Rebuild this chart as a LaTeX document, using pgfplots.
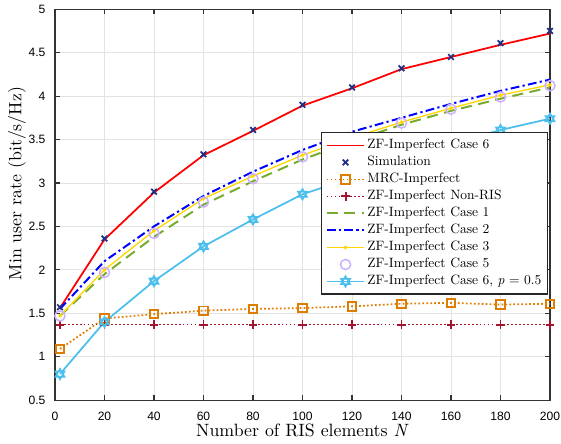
\documentclass[border=0pt]{standalone}
\usepackage{fontspec}
\setmainfont{lmroman10}[Extension=.otf, UprightFont=*-regular, ItalicFont=*-italic,
  BoldFont=*-bold, BoldItalicFont=*-bolditalic]
\usepackage{pgfplots}
\pgfplotsset{compat=1.18}
\newfontfamily\ticksans{Liberation Sans}

\definecolor{cRed}{rgb}{1,0,0}
\definecolor{cSim}{rgb}{0.12,0.18,0.52}
\definecolor{cMRC}{rgb}{0.87,0.49,0.0}
\definecolor{cNon}{rgb}{0.64,0.08,0.18}
\definecolor{cC1}{rgb}{0.47,0.67,0.19}
\definecolor{cC2}{rgb}{0,0,1}
\definecolor{cC3}{rgb}{1,0.84,0}
\definecolor{cC5}{rgb}{0.8,0.7,1}
\definecolor{cC6p}{rgb}{0.3,0.75,0.93}

% six-pointed star, as MATLAB's hexagram
\pgfdeclareplotmark{hexagram}{%
  \pgfpathmoveto{\pgfqpointpolar{90}{\pgfplotmarksize}}%
  \pgfpathlineto{\pgfqpointpolar{210}{\pgfplotmarksize}}%
  \pgfpathlineto{\pgfqpointpolar{330}{\pgfplotmarksize}}%
  \pgfpathclose
  \pgfpathmoveto{\pgfqpointpolar{270}{\pgfplotmarksize}}%
  \pgfpathlineto{\pgfqpointpolar{30}{\pgfplotmarksize}}%
  \pgfpathlineto{\pgfqpointpolar{150}{\pgfplotmarksize}}%
  \pgfpathclose
  \pgfusepathqstroke}

\begin{document}
\begin{tikzpicture}
\begin{axis}[
  name=ax,
  scale only axis,
  width=225pt, height=177.7pt,
  xmin=0, xmax=200, ymin=0.5, ymax=5,
  xtick={0,20,...,200},
  ytick={0.5,1,...,5},
  /pgf/number format/assume math mode=true,
  yticklabel style={/pgf/number format/fixed, xshift=-0.8pt},
  xticklabel style={yshift=-2pt},
  ticklabel style={font=\ticksans\fontsize{5.5}{6}\selectfont},
  xlabel={Number of RIS elements \textit{N}},
  ylabel={Min user rate (bit/s/Hz)},
  label style={font=\fontsize{8.1}{9.5}\selectfont},
  xlabel style={at={(axis description cs:0.5,-0.094)}, anchor=base},
  ylabel style={at={(axis description cs:-0.077,0.554)}, anchor=center},
  grid=major,
  grid style={gray!22, line width=0.4pt},
  tick align=inside,
  major tick length=2.3pt,
  axis line style={black!80, line width=0.5pt},
  tick style={black!80, line width=0.5pt},
  legend style={font=\fontsize{6.15}{7}\selectfont, at={(0.996,0.685)}, anchor=north east,
                draw=black!85, line width=0.5pt, row sep=0pt, inner sep=1.8pt,
                nodes={inner sep=0.95pt}},
  legend cell align=left,
]
\addplot[cRed, line width=0.8pt] coordinates {
  (2,1.56) (20,2.35) (40,2.89) (60,3.32) (80,3.60) (100,3.89) (120,4.09)
  (140,4.31) (160,4.45) (180,4.59) (200,4.72)
};
\addplot[only marks, cSim, mark=x, mark size=1.8pt, line width=0.8pt] coordinates {
  (2,1.57) (20,2.36) (40,2.90) (60,3.33) (80,3.61) (100,3.90) (120,4.10)
  (140,4.32) (160,4.45) (180,4.61) (200,4.75)
};
\addplot[cMRC, densely dotted, line width=0.8pt, mark=square, mark size=1.9pt,
         mark options={solid, line width=0.9pt}] coordinates {
  (2,1.09) (20,1.44) (40,1.49) (60,1.53) (80,1.55) (100,1.56) (120,1.58)
  (140,1.61) (160,1.62) (180,1.60) (200,1.61)
};
\addplot[cNon, densely dotted, line width=0.8pt, mark=+, mark size=2pt,
         mark options={solid, line width=0.9pt}] coordinates {
  (2,1.37) (20,1.37) (40,1.37) (60,1.37) (80,1.37) (100,1.37) (120,1.37)
  (140,1.37) (160,1.37) (180,1.37) (200,1.37)
};
\addplot[cC1, dash pattern=on 5pt off 3pt, line width=0.9pt] coordinates {
  (2,1.47) (20,1.95) (40,2.38) (60,2.75) (80,3.02) (100,3.27) (120,3.48)
  (140,3.67) (160,3.83) (180,3.97) (200,4.10)
};
\addplot[cC2, dash pattern=on 4pt off 1.5pt on 1pt off 1.5pt, line width=0.9pt] coordinates {
  (2,1.55) (20,2.10) (40,2.50) (60,2.85) (80,3.13) (100,3.38) (120,3.59)
  (140,3.75) (160,3.91) (180,4.06) (200,4.19)
};
\addplot[cC3, line width=0.6pt, mark=*, mark size=0.5pt] coordinates {
  (2,1.47) (20,2.00) (40,2.45) (60,2.82) (80,3.08) (100,3.32) (120,3.52)
  (140,3.70) (160,3.86) (180,4.01) (200,4.13)
};
\addplot[only marks, cC5, mark=o, mark size=2.3pt, line width=0.7pt] coordinates {
  (2,1.47) (20,1.97) (40,2.42) (60,2.78) (80,3.05) (100,3.30) (120,3.51)
  (140,3.69) (160,3.85) (180,3.99) (200,4.12)
};
\addplot[cC6p, line width=0.8pt, mark=hexagram, mark size=2.4pt,
         mark options={line width=0.7pt}] coordinates {
  (2,0.80) (20,1.40) (40,1.87) (60,2.27) (80,2.58) (100,2.87) (120,3.06)
  (140,3.28) (160,3.45) (180,3.61) (200,3.74)
};
\legend{ZF-Imperfect Case 6, Simulation, MRC-Imperfect, ZF-Imperfect Non-RIS,
        ZF-Imperfect Case 1, ZF-Imperfect Case 2, ZF-Imperfect Case 3,
        ZF-Imperfect Case 5, {ZF-Imperfect Case 6, \textit{p} = 0.5}}
\end{axis}
\pgfresetboundingbox
\path ([shift={(-25pt,-19.5pt)}]ax.south west) rectangle ([shift={(5pt,4.2pt)}]ax.north east);
\end{tikzpicture}
\end{document}
